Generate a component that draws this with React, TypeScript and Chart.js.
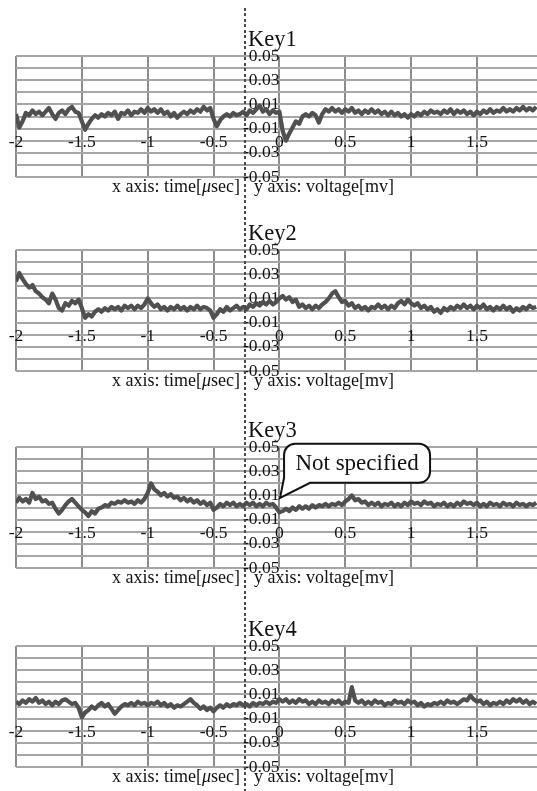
import React, { useEffect, useRef } from 'react';
import { Chart, registerables } from 'chart.js';

Chart.register(...registerables);

// ---- data ----
const SAMPLE_START = -2; // μsec
const SAMPLE_STEP = 0.025; // μsec
const X_MIN = -2;
const X_MAX = 1.956;
const X_TICKS = [-2, -1.5, -1, -0.5, 0, 0.5, 1, 1.5];
const Y_MIN = -0.05;
const Y_MAX = 0.05;
const Y_GRID = [-0.05, -0.04, -0.03, -0.02, -0.01, 0, 0.01, 0.02, 0.03, 0.04, 0.05];
const Y_LABELED = [-0.05, -0.03, -0.01, 0.01, 0.03, 0.05];
const KEYS = ['Key1', 'Key2', 'Key3', 'Key4'];

const KEY1 = [
  0.002, -0.009, -0.004, 0.003, 0.001, 0.005, 0.002, 0.004, 0.001, 0.004,
  0.007, 0.002, -0.002, 0.003, 0.005, 0.002, 0.006, 0.008, 0.004, 0.003,
  -0.004, -0.011, -0.006, -0.002, 0.001, -0.001, 0.002, 0.000, 0.003, 0.001,
  0.004, -0.002, 0.003, 0.002, 0.005, 0.001, 0.004, 0.003, 0.006, 0.003,
  0.007, 0.004, 0.006, 0.003, 0.006, 0.002, 0.004, 0.000, 0.003, -0.001,
  0.002, 0.004, 0.002, 0.005, 0.003, 0.006, 0.004, 0.008, 0.005, 0.007,
  -0.002, -0.008, -0.003, 0.000, 0.002, 0.000, 0.003, 0.001, 0.002, 0.004,
  0.001, 0.005, 0.003, 0.006, 0.009, 0.004, 0.006, 0.002, 0.005, 0.003,
  0.004, -0.012, -0.020, -0.014, -0.009, -0.004, -0.006, 0.000, 0.002, 0.000,
  0.003, 0.001, -0.005, 0.002, 0.006, 0.004, 0.007, 0.004, 0.006, 0.003,
  0.006, 0.004, 0.007, 0.003, 0.005, 0.002, 0.005, 0.003, 0.006, 0.003,
  0.005, 0.002, 0.004, 0.001, 0.004, 0.001, 0.003, 0.000, 0.002, -0.001,
  0.002, 0.000, 0.003, 0.001, 0.004, 0.002, 0.005, 0.003, 0.004, 0.002,
  0.005, 0.003, 0.006, 0.002, 0.005, 0.003, 0.005, 0.002, 0.004, 0.001,
  0.004, 0.002, 0.005, 0.003, 0.006, 0.003, 0.005, 0.004, 0.007, 0.004,
  0.006, 0.004, 0.007, 0.005, 0.008, 0.005, 0.007, 0.005, 0.008,
];

const KEY2 = [
  0.024, 0.031, 0.026, 0.022, 0.019, 0.021, 0.016, 0.014, 0.011, 0.009,
  0.006, 0.014, 0.009, 0.002, 0.000, 0.006, 0.004, 0.008, 0.006, 0.009,
  0.002, -0.006, -0.003, -0.005, -0.001, 0.001, -0.001, 0.002, 0.000, 0.003,
  0.001, 0.003, 0.000, 0.004, 0.002, 0.004, 0.001, 0.004, 0.002, 0.005,
  0.010, 0.006, 0.003, 0.005, 0.001, 0.003, 0.000, 0.003, 0.001, 0.004,
  0.001, 0.003, 0.000, 0.003, 0.001, 0.004, 0.001, 0.003, 0.002, 0.000,
  -0.006, -0.003, 0.001, -0.001, 0.003, 0.000, 0.002, 0.004, 0.001, 0.003,
  0.001, 0.005, 0.003, 0.006, 0.004, 0.007, 0.005, 0.008, 0.005, 0.007,
  0.010, 0.012, 0.009, 0.011, 0.007, 0.009, 0.003, 0.005, 0.002, 0.004,
  0.001, 0.004, 0.002, 0.005, 0.007, 0.010, 0.014, 0.016, 0.011, 0.007,
  0.008, 0.004, 0.006, 0.002, 0.004, 0.001, 0.003, 0.000, 0.003, 0.002,
  0.005, 0.002, 0.004, 0.001, 0.004, 0.002, 0.006, 0.008, 0.005, 0.009,
  0.006, 0.004, 0.006, 0.002, 0.004, 0.001, 0.003, -0.001, 0.001, -0.002,
  0.002, 0.000, 0.003, 0.001, 0.004, 0.002, 0.005, 0.002, 0.004, 0.001,
  0.004, 0.002, 0.005, 0.001, 0.003, 0.000, 0.003, 0.001, 0.004, 0.001,
  0.003, -0.001, 0.002, 0.000, 0.003, 0.001, 0.004, 0.002, 0.003,
];

const KEY3 = [
  0.004, 0.008, 0.005, 0.007, 0.004, 0.012, 0.007, 0.009, 0.005, 0.006,
  0.003, 0.004, -0.001, -0.005, -0.002, 0.002, 0.005, 0.007, 0.004, 0.001,
  -0.002, -0.004, -0.007, -0.003, -0.005, -0.001, 0.000, 0.002, 0.001, 0.004,
  0.003, 0.005, 0.004, 0.006, 0.004, 0.005, 0.003, 0.006, 0.004, 0.007,
  0.012, 0.020, 0.015, 0.013, 0.010, 0.012, 0.009, 0.011, 0.008, 0.009,
  0.006, 0.008, 0.005, 0.007, 0.004, 0.006, 0.003, 0.005, 0.002, 0.004,
  -0.002, 0.000, 0.003, 0.001, 0.004, 0.002, 0.004, 0.001, 0.003, 0.001,
  0.004, 0.002, 0.004, 0.001, 0.003, 0.001, 0.004, 0.002, 0.003, 0.000,
  -0.004, -0.003, -0.001, -0.003, 0.000, -0.002, 0.001, -0.001, 0.001, -0.001,
  0.002, 0.000, 0.002, 0.001, 0.003, 0.001, 0.003, 0.002, 0.004, 0.002,
  0.005, 0.007, 0.010, 0.006, 0.007, 0.004, 0.005, 0.002, 0.004, 0.002,
  0.004, 0.001, 0.003, 0.002, 0.004, 0.001, 0.003, 0.001, 0.004, 0.002,
  0.005, 0.003, 0.004, 0.002, 0.005, 0.003, 0.004, 0.001, 0.003, 0.002,
  0.004, 0.001, 0.003, 0.001, 0.004, 0.002, 0.005, 0.003, 0.004, 0.002,
  0.004, 0.001, 0.003, 0.001, 0.004, 0.002, 0.003, 0.001, 0.004, 0.002,
  0.003, 0.001, 0.004, 0.002, 0.003, 0.001, 0.003, 0.002, 0.004,
];

const KEY4 = [
  0.004, 0.002, 0.005, 0.003, 0.006, 0.004, 0.007, 0.003, 0.005, 0.002,
  0.004, 0.001, 0.004, 0.002, 0.005, 0.006, 0.004, 0.002, 0.003, -0.001,
  -0.009, -0.005, -0.003, 0.000, -0.002, 0.001, 0.003, 0.000, 0.002, -0.002,
  -0.006, -0.003, 0.000, 0.002, 0.001, 0.003, 0.001, 0.004, 0.002, 0.003,
  0.001, 0.003, 0.002, 0.004, 0.001, 0.003, 0.000, 0.002, -0.001, 0.001,
  0.000, 0.002, 0.004, 0.006, 0.003, 0.001, -0.002, 0.000, -0.003, -0.001,
  -0.004, -0.001, 0.001, -0.001, 0.002, 0.000, 0.002, 0.001, 0.003, 0.001,
  0.002, 0.000, 0.003, 0.001, 0.003, 0.002, 0.004, 0.002, 0.004, 0.003,
  0.006, 0.004, 0.006, 0.003, 0.005, 0.003, 0.006, 0.004, 0.005, 0.002,
  0.004, 0.002, 0.005, 0.003, 0.004, 0.002, 0.005, 0.003, 0.005, 0.002,
  0.004, 0.003, 0.016, 0.005, 0.003, 0.005, 0.002, 0.004, 0.002, 0.005,
  0.003, 0.004, 0.001, 0.003, 0.002, 0.005, 0.003, 0.004, 0.002, 0.005,
  0.003, 0.004, 0.001, 0.003, 0.000, 0.002, 0.001, 0.003, 0.002, 0.004,
  0.002, 0.005, 0.003, 0.004, 0.002, 0.004, 0.006, 0.005, 0.009, 0.006,
  0.004, 0.005, 0.002, 0.004, 0.001, 0.003, 0.002, 0.004, 0.002, 0.005,
  0.003, 0.006, 0.004, 0.006, 0.003, 0.005, 0.002, 0.004, 0.002,
];

const SERIES = [KEY1, KEY2, KEY3, KEY4];
const CAPTION_X_PRE = 'x axis: time[';
const CAPTION_X_MU = 'μ';
const CAPTION_X_POST = 'sec]';
const CAPTION_Y = 'y axis: voltage[mv]';
const CALLOUT_TEXT = 'Not specified';
const CALLOUT_PANEL = 2;
const CALLOUT_POINT = { x: 0.005, y: 0.008 };

// ---- layout / style ----
const PANEL_TOPS = [56, 250, 447, 646]; // top grid line of each panel (page px)
const CANVAS_W = 537;
const CANVAS_H = 185;
const AREA_TOP = 40;
const AREA_H = 121;
const SERIF = "'Liberation Serif', 'Times New Roman', serif";
const TICK_SIZE = 17.5;
const TITLE_SIZE = 22.5;
const CAPTION_SIZE = 18;

function makeCalloutPlugin(text: string, point: { x: number; y: number }) {
  return {
    id: 'callout',
    afterDraw(chart: any) {
      const ctx = chart.ctx as CanvasRenderingContext2D;
      const px = chart.scales.x.getPixelForValue(point.x);
      const py = chart.scales.y.getPixelForValue(point.y);
      const L = px + 4;
      const R = px + 150;
      const T = py - 54;
      const B = py - 15;
      const r = 11;
      ctx.save();
      ctx.beginPath();
      ctx.moveTo(L + r, T);
      ctx.lineTo(R - r, T);
      ctx.arcTo(R, T, R, T + r, r);
      ctx.lineTo(R, B - r);
      ctx.arcTo(R, B, R - r, B, r);
      ctx.lineTo(px + 30, B);
      ctx.lineTo(px, py);
      ctx.lineTo(L, B - 5);
      ctx.lineTo(L, T + r);
      ctx.arcTo(L, T, L + r, T, r);
      ctx.closePath();
      ctx.fillStyle = '#ffffff';
      ctx.fill();
      ctx.lineWidth = 2;
      ctx.strokeStyle = '#111111';
      ctx.stroke();
      ctx.fillStyle = '#111111';
      ctx.font = `23px ${SERIF}`;
      ctx.textAlign = 'center';
      ctx.textBaseline = 'middle';
      ctx.fillText(text, (L + R) / 2, (T + B) / 2 + 1);
      ctx.restore();
    },
  };
}

function zeroPadding(s: any) {
  s.paddingLeft = 0;
  s.paddingRight = 0;
  s.paddingTop = 0;
  s.paddingBottom = 0;
}

function Panel({ index }: { index: number }) {
  const ref = useRef<HTMLCanvasElement | null>(null);
  const top = PANEL_TOPS[index];

  useEffect(() => {
    const canvas = ref.current;
    if (!canvas) return;
    const values = SERIES[index];
    const plugins: any[] = [];
    if (index === CALLOUT_PANEL) plugins.push(makeCalloutPlugin(CALLOUT_TEXT, CALLOUT_POINT));
    const tickFont = { family: SERIF, size: TICK_SIZE };
    const chart = new Chart(canvas, {
      type: 'line',
      data: {
        datasets: [
          {
            label: KEYS[index],
            data: values.map((v, i) => ({ x: SAMPLE_START + i * SAMPLE_STEP, y: v })),
            borderColor: '#505050',
            borderWidth: 4.2,
            borderJoinStyle: 'round',
            pointRadius: 0,
            tension: 0,
            fill: false,
          },
        ],
      },
      options: {
        responsive: false,
        animation: false,
        events: [],
        layout: { padding: { left: 16, right: 0, top: AREA_TOP, bottom: CANVAS_H - AREA_TOP - AREA_H } },
        plugins: { legend: { display: false }, tooltip: { enabled: false }, title: { display: false } },
        scales: {
          x: {
            type: 'linear',
            min: X_MIN,
            max: X_MAX,
            position: { y: 0 } as any,
            afterBuildTicks: (s: any) => {
              s.ticks = X_TICKS.map((v) => ({ value: v }));
            },
            afterFit: (s: any) => {
              s.height = 0;
              zeroPadding(s);
            },
            grid: { color: '#8c8c8c', lineWidth: 2, drawTicks: false },
            border: { display: false },
            ticks: {
              autoSkip: false,
              maxRotation: 0,
              padding: 15,
              color: '#111111',
              font: tickFont,
              callback: (v: any) => String(v),
            },
          },
          y: {
            type: 'linear',
            min: Y_MIN,
            max: Y_MAX,
            position: { x: 0 } as any,
            afterBuildTicks: (s: any) => {
              s.ticks = Y_GRID.map((v) => ({ value: v }));
            },
            afterFit: (s: any) => {
              s.width = 0;
              zeroPadding(s);
            },
            grid: { color: '#a6a6a6', lineWidth: 2, drawTicks: false },
            border: { display: false },
            ticks: {
              autoSkip: false,
              padding: 0,
              color: '#111111',
              font: tickFont,
              callback: (v: any) =>
                Y_LABELED.some((l) => Math.abs(l - Number(v)) < 1e-9) ? Number(v).toFixed(2) : '',
            },
          },
        },
      } as any,
      plugins,
    });
    return () => chart.destroy();
  }, [index]);

  const captionTop = 160.9;
  return (
    <div style={{ position: 'absolute', left: 0, top: top - AREA_TOP, width: CANVAS_W, height: CANVAS_H }}>
      <canvas ref={ref} width={CANVAS_W} height={CANVAS_H} style={{ display: 'block', width: CANVAS_W, height: CANVAS_H }} />
      <div
        style={{
          position: 'absolute',
          left: 248,
          top: 12.2,
          fontFamily: SERIF,
          fontSize: TITLE_SIZE,
          lineHeight: `${TITLE_SIZE}px`,
          color: '#111',
          whiteSpace: 'nowrap',
        }}
      >
        {KEYS[index]}
      </div>
      <div
        style={{
          position: 'absolute',
          right: CANVAS_W - 240,
          top: captionTop,
          fontFamily: SERIF,
          fontSize: CAPTION_SIZE,
          lineHeight: `${CAPTION_SIZE}px`,
          color: '#111',
          whiteSpace: 'nowrap',
        }}
      >
        {CAPTION_X_PRE}
        <i>{CAPTION_X_MU}</i>
        {CAPTION_X_POST}
      </div>
      <div
        style={{
          position: 'absolute',
          left: 254,
          top: captionTop,
          fontFamily: SERIF,
          fontSize: CAPTION_SIZE,
          lineHeight: `${CAPTION_SIZE}px`,
          color: '#111',
          whiteSpace: 'nowrap',
        }}
      >
        {CAPTION_Y}
      </div>
    </div>
  );
}

export default function App() {
  return (
    <div
      style={{
        position: 'absolute',
        left: 0,
        top: 0,
        width: 537,
        height: 791,
        overflow: 'hidden',
        background: '#ffffff',
      }}
    >
      {KEYS.map((k, i) => (
        <Panel key={k} index={i} />
      ))}
      <div
        style={{
          position: 'absolute',
          left: 244,
          top: 8,
          width: 2,
          height: 783,
          background: 'repeating-linear-gradient(to bottom, #4a4a4a 0px, #4a4a4a 3px, transparent 3px, transparent 5.5px)',
        }}
      />
    </div>
  );
}
